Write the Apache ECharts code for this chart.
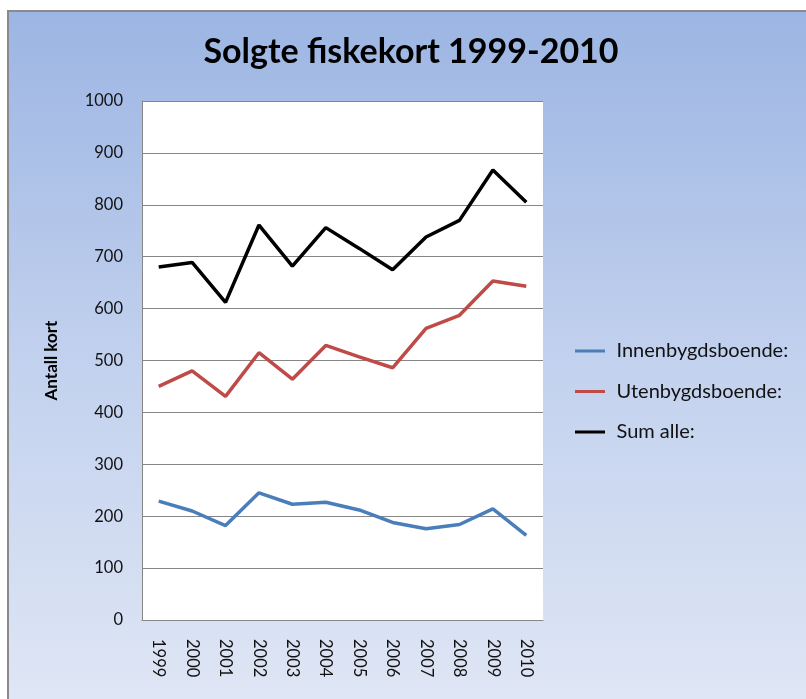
<!DOCTYPE html>
<html>
<head>
<meta charset="utf-8">
<script src="https://cdn.jsdelivr.net/npm/echarts@6/dist/echarts.min.js"></script>
<style>html,body{margin:0;padding:0;background:#fff;}#c{width:806px;height:699px;}</style>
</head>
<body>
<div id="c"></div>
<script>
const years = ['1999','2000','2001','2002','2003','2004','2005','2006','2007','2008','2009','2010'];
const innenbygds = [229, 210, 182, 245, 223, 227, 212, 188, 176, 184, 214, 163];
const utenbygds = [450, 480, 431, 515, 464, 529, 507, 486, 562, 587, 653, 643];
const sumAlle = [680, 689, 612, 761, 682, 756, 716, 675, 738, 770, 867, 805];
const yTicks = [0, 100, 200, 300, 400, 500, 600, 700, 800, 900, 1000];

const FONT = 'Lato, "Open Sans", sans-serif';
const chart = echarts.init(document.getElementById('c'), null, {renderer: 'canvas'});
const legendIcon = 'path://M0,0 L10,0 L10,1 L0,1 Z';
chart.setOption({
  backgroundColor: '#ffffff',
  animation: false,
  graphic: [{
    type: 'rect', z: -10, silent: true,
    shape: {x: 8, y: 11, width: 810, height: 700},
    style: {
      fill: new echarts.graphic.LinearGradient(0, 0, 0, 1, [
        {offset: 0, color: '#9cb5e3'},
        {offset: 0.5, color: '#c2d1ee'},
        {offset: 1, color: '#e0e7f5'}
      ]),
      stroke: '#8a8a8a', lineWidth: 2
    }
  }],
  title: {
    text: 'Solgte fiskekort 1999-2010',
    left: 406, top: 30, textAlign: 'center',
    textStyle: {fontFamily: FONT, fontWeight: 'bold', fontSize: 34, color: '#000'}
  },
  legend: {
    orient: 'vertical', left: 575, top: 341, padding: 0,
    itemWidth: 43, itemHeight: 3, itemGap: 20.5,
    icon: legendIcon,
    textStyle: {fontFamily: FONT, fontSize: 20, color: '#111', padding: [0,0,0,0]},
    data: ['Innenbygdsboende:', 'Utenbygdsboende:', 'Sum alle:']
  },
  grid: {left: 142, top: 101, right: 263, bottom: 79, show: true, backgroundColor: '#ffffff', borderWidth: 0},
  xAxis: {
    type: 'category', data: years, boundaryGap: true,
    axisLine: {lineStyle: {color: '#868686', width: 1}},
    axisTick: {show: false},
    axisLabel: {rotate: -90, margin: 19, fontFamily: FONT, fontSize: 16.5, color: '#111'}
  },
  yAxis: {
    type: 'value', min: yTicks[0], max: yTicks[yTicks.length - 1], interval: yTicks[1] - yTicks[0],
    name: 'Antall kort', nameLocation: 'middle', nameGap: 82, nameRotate: 90,
    nameTextStyle: {fontFamily: FONT, fontWeight: 'bold', fontSize: 17, color: '#000'},
    axisLine: {show: true, lineStyle: {color: '#868686', width: 1}},
    axisTick: {show: false},
    splitLine: {lineStyle: {color: '#868686', width: 1}},
    axisLabel: {margin: 19, fontFamily: FONT, fontSize: 16.5, color: '#111', formatter: v => String(v)}
  },
  series: [
    {name: 'Innenbygdsboende:', type: 'line', data: innenbygds, symbol: 'none',
     lineStyle: {width: 3.5, color: '#4a7ebb'}, itemStyle: {color: '#4a7ebb'}},
    {name: 'Utenbygdsboende:', type: 'line', data: utenbygds, symbol: 'none',
     lineStyle: {width: 3.5, color: '#be4b48'}, itemStyle: {color: '#be4b48'}},
    {name: 'Sum alle:', type: 'line', data: sumAlle, symbol: 'none',
     lineStyle: {width: 3.5, color: '#000000'}, itemStyle: {color: '#000000'}}
  ]
});
</script>
</body>
</html>
